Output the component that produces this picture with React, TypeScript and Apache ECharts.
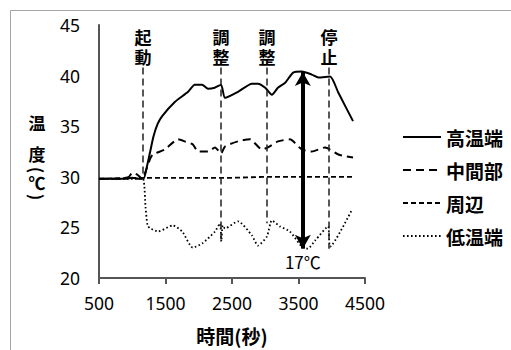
import React, { useEffect, useRef } from 'react';
import * as echarts from 'echarts';

// ---- data ----
const seriesNames = ['高温端', '中間部', '周辺', '低温端'];

const highT = [500, 700, 900, 1000, 1100, 1170, 1220, 1270, 1320, 1380, 1450, 1640, 1840, 1940, 2050, 2140, 2240, 2335, 2395, 2590, 2800, 2890, 3000, 3100, 3190, 3300, 3420, 3550, 3700, 3800, 3975, 4100, 4320];
const highV = [29.8, 29.8, 29.8, 29.9, 29.8, 29.8, 31.0, 32.5, 34.0, 35.2, 36.0, 37.4, 38.4, 39.1, 39.1, 38.7, 38.8, 39.1, 37.8, 38.4, 39.2, 39.2, 38.8, 38.1, 38.8, 39.3, 40.3, 40.4, 40.1, 39.8, 39.9, 38.3, 35.5];

const midT = [500, 800, 950, 1000, 1080, 1150, 1200, 1270, 1310, 1490, 1690, 1790, 1910, 1990, 2140, 2245, 2335, 2395, 2590, 2770, 2950, 3040, 3190, 3370, 3550, 3700, 3900, 4100, 4320];
const midV = [29.8, 29.8, 30.0, 30.4, 30.2, 29.8, 30.5, 31.8, 32.2, 32.7, 33.7, 33.5, 33.2, 32.5, 32.5, 32.9, 32.3, 33.0, 33.5, 33.7, 32.7, 32.9, 33.5, 33.7, 32.7, 32.5, 32.9, 32.2, 31.9];

const periT = [500, 1000, 1500, 2000, 2500, 3000, 3500, 4000, 4320];
const periV = [29.8, 29.9, 29.9, 29.9, 29.9, 30.0, 30.0, 30.0, 30.0];

const lowT = [500, 900, 1100, 1170, 1200, 1230, 1270, 1390, 1610, 1750, 1910, 2050, 2245, 2320, 2340, 2360, 2395, 2590, 2800, 2890, 3025, 3100, 3220, 3370, 3550, 3640, 3750, 3945, 3975, 4300];
const lowV = [29.8, 29.8, 29.8, 29.7, 27.0, 25.2, 24.9, 24.6, 25.2, 24.6, 23.0, 23.4, 24.6, 25.4, 23.6, 25.2, 24.9, 25.6, 24.2, 23.2, 24.1, 25.7, 25.1, 24.6, 23.1, 22.9, 23.7, 25.1, 23.1, 26.7];

// event annotations
const annoTimes = [1160, 2335, 3026, 3960];
const annoLabels = ['起\n動', '調\n整', '調\n整', '停\n止'];
const annoTop = 40.8;
const annoBottoms = [29.8, 23.6, 25.4, 22.9];

// temperature difference arrow
const arrowT = 3565;
const arrowTop = 40.35;
const arrowBottom = 22.9;
const arrowLabel = '17℃';

const zip = (t: number[], v: number[]) => t.map((x, i) => [x, v[i]]);

export default function App() {
  const ref = useRef<HTMLDivElement>(null);
  useEffect(() => {
    const chart = echarts.init(ref.current!, null, { renderer: 'svg' });
    const cjk = '"Noto Sans CJK JP", "Noto Sans", sans-serif';
    const annoFont = '"DejaVu Sans", "Noto Sans CJK JP", sans-serif';
    const num = '"Noto Sans", "Liberation Sans", sans-serif';
    const yTitleFont = `bold 17px ${cjk}`;
    chart.setOption({
      animation: false,
      backgroundColor: '#fff',
      grid: { left: 99, top: 25, right: 146, bottom: 70 },
      xAxis: {
        type: 'value',
        min: 500,
        max: 4500,
        interval: 1000,
        name: '時間(秒)',
        nameLocation: 'middle',
        nameGap: 48,
        nameTextStyle: { fontSize: 19, fontWeight: 'bold', color: '#000', fontFamily: cjk },
        axisLine: { show: true, lineStyle: { color: '#555', width: 2 } },
        axisTick: { show: true, length: 6, lineStyle: { color: '#555', width: 2 } },
        axisLabel: { margin: 16, fontSize: 17.5, color: '#000', fontFamily: num, formatter: (v: number) => String(v) },
        splitLine: { show: false },
      },
      yAxis: {
        type: 'value',
        min: 20,
        max: 45,
        interval: 5,
        axisLine: { show: true, lineStyle: { color: '#555', width: 2 } },
        axisTick: { show: false },
        axisLabel: { margin: 19, fontSize: 17.5, color: '#000', fontFamily: num },
        splitLine: { show: false },
      },
      legend: {
        orient: 'vertical',
        left: 402,
        top: 127,
        padding: 0,
        itemWidth: 38,
        itemHeight: 14,
        itemGap: 13,
        selectedMode: false,
        data: seriesNames,
        itemStyle: { opacity: 0, borderWidth: 0 },
        textStyle: { fontSize: 19, fontWeight: 'bold', color: '#000', fontFamily: cjk, lineHeight: 20 },
      },
      graphic: [
        { type: 'rect', silent: true, shape: { x: 10.5, y: 10.5, width: 700, height: 500 }, style: { fill: 'none', stroke: '#a6a6a6', lineWidth: 1 } },
        { type: 'text', x: 37, y: 122, style: { text: '温', font: yTitleFont, fill: '#000', align: 'center', verticalAlign: 'middle' } },
        { type: 'text', x: 37, y: 153, style: { text: '度', font: yTitleFont, fill: '#000', align: 'center', verticalAlign: 'middle' } },
        { type: 'text', x: 37, y: 170, rotation: -Math.PI / 2, style: { text: '(', font: yTitleFont, fill: '#000', align: 'center', verticalAlign: 'middle' } },
        { type: 'text', x: 37, y: 182, style: { text: '℃', font: yTitleFont, fill: '#000', align: 'center', verticalAlign: 'middle' } },
        { type: 'text', x: 37, y: 197, rotation: -Math.PI / 2, style: { text: ')', font: yTitleFont, fill: '#000', align: 'center', verticalAlign: 'middle' } },
      ],
      series: [
        {
          name: seriesNames[0], type: 'line', data: zip(highT, highV), symbol: 'none', smooth: 0.2,
          itemStyle: { color: '#000' }, lineStyle: { color: '#000', width: 2, type: 'solid' },
        },
        {
          name: seriesNames[1], type: 'line', data: zip(midT, midV), symbol: 'none', smooth: 0.2,
          itemStyle: { color: '#000' }, lineStyle: { color: '#000', width: 2, type: [8, 5] },
        },
        {
          name: seriesNames[2], type: 'line', data: zip(periT, periV), symbol: 'none',
          itemStyle: { color: '#000' }, lineStyle: { color: '#000', width: 1.8, type: [5, 3] },
        },
        {
          name: seriesNames[3], type: 'line', data: zip(lowT, lowV), symbol: 'none', smooth: 0.2,
          itemStyle: { color: '#000' }, lineStyle: { color: '#000', width: 1.8, type: [1.6, 2.4] },
        },
        {
          name: 'events', type: 'line', data: [], silent: true,
          markLine: {
            silent: true, symbol: 'none', animation: false,
            lineStyle: { color: '#222', type: [7, 4], width: 1.5 },
            label: { show: true, position: 'start', distance: 0, color: '#000', fontSize: 17, fontWeight: 'bold', fontFamily: annoFont, lineHeight: 20 },
            emphasis: { disabled: true },
            data: annoTimes.map((t, i) => [
              { coord: [t, annoTop], label: { formatter: annoLabels[i] } },
              { coord: [t, annoBottoms[i]] },
            ]),
          },
        },
        {
          name: 'diff', type: 'line', data: [], silent: true,
          markLine: {
            silent: true, symbol: ['arrow', 'arrow'], symbolSize: [12, 14], animation: false,
            lineStyle: { color: '#000', type: 'solid', width: 4 },
            label: { show: true, position: 'start', distance: 4, color: '#000', fontSize: 17, fontFamily: cjk, formatter: arrowLabel },
            emphasis: { disabled: true },
            data: [[{ coord: [arrowT, arrowBottom] }, { coord: [arrowT, arrowTop] }]],
          },
        },
      ],
    });
    return () => chart.dispose();
  }, []);
  return <div ref={ref} style={{ position: 'absolute', left: 0, top: 0, width: 511, height: 350 }} />;
}
